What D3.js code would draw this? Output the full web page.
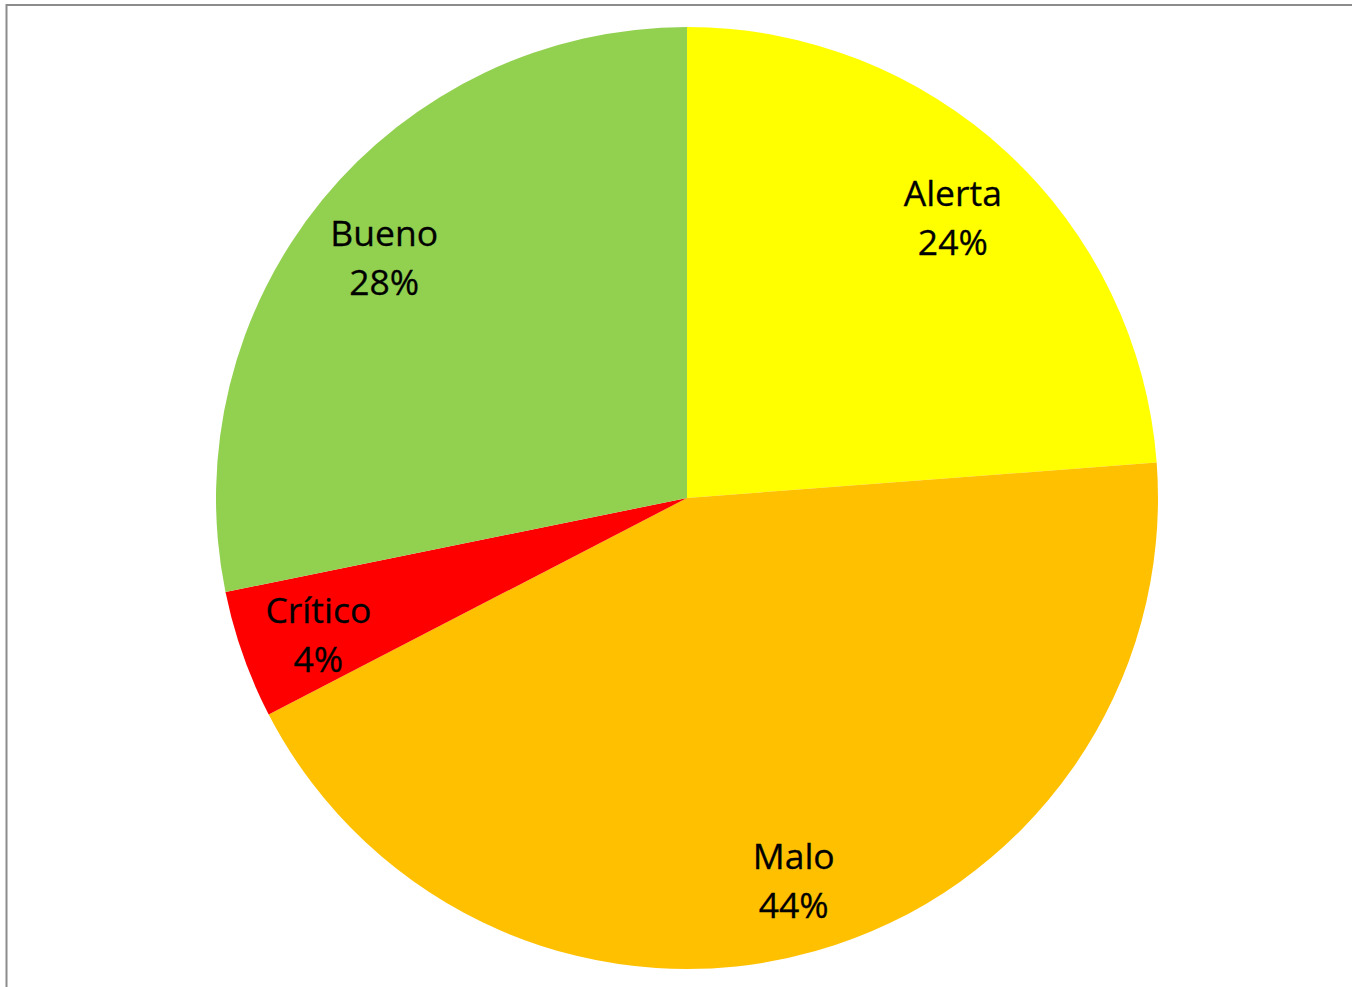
<!DOCTYPE html>
<html>
<head>
<meta charset="utf-8">
<script src="https://cdn.jsdelivr.net/npm/d3@7"></script>
<style>
  html, body { margin: 0; padding: 0; background: #fff; overflow: hidden; }
  svg { display: block; }
</style>
</head>
<body>
<svg id="chart" width="1352" height="987"></svg>
<script>
// Distribution of condition states (share of total, %)
const categories = ["Alerta", "Malo", "Crítico", "Bueno"];
const values = [23.8, 43.6, 4.4, 28.2];
const colors = ["#FFFF00", "#FFC000", "#FF0000", "#92D050"];

const width = 1352, height = 987;
const cx = 687, cy = 498, radius = 471;

const svg = d3.select("#chart");

// chart area frame
svg.append("rect")
  .attr("x", 6.5).attr("y", 5)
  .attr("width", 1400).attr("height", 1100)
  .attr("fill", "#fff")
  .attr("stroke", "#8c8c8c")
  .attr("stroke-width", 2);

const data = categories.map((c, i) => ({ name: c, value: values[i], color: colors[i] }));
const total = d3.sum(values);

const pie = d3.pie().value(d => d.value).sort(null);
const arcs = pie(data);

const arc = d3.arc().innerRadius(0).outerRadius(radius);
const labelArc = d3.arc().innerRadius(radius * 0.83).outerRadius(radius * 0.83);

const g = svg.append("g").attr("transform", `translate(${cx},${cy})`);

g.selectAll("path.slice")
  .data(arcs)
  .join("path")
  .attr("class", "slice")
  .attr("d", arc)
  .attr("fill", d => d.data.color);

const fmt = v => Math.round(v / total * 100) + "%";

const labels = g.selectAll("text.lbl")
  .data(arcs)
  .join("text")
  .attr("class", "lbl")
  .attr("text-anchor", "middle")
  .attr("font-family", "'Open Sans', 'Liberation Sans', sans-serif")
  .attr("font-size", 35.5)
  .attr("fill", "#000")
  .attr("stroke", "#000")
  .attr("stroke-width", 0.3)
  .attr("transform", d => {
    const [x, y] = labelArc.centroid(d);
    return `translate(${x},${y})`;
  });

labels.append("tspan").attr("x", 0).attr("y", -5).text(d => d.data.name);
labels.append("tspan").attr("x", 0).attr("y", 44).text(d => fmt(d.data.value));
</script>
</body>
</html>
